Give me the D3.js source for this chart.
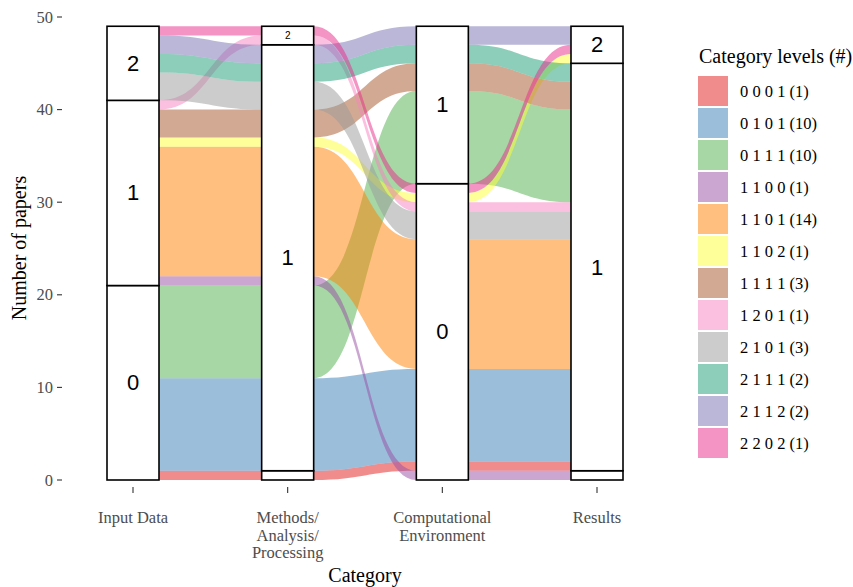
<!DOCTYPE html>
<html>
<head>
<meta charset="utf-8">
<script src="https://cdn.jsdelivr.net/npm/d3@7/dist/d3.min.js"></script>
<style>
  body { margin: 0; background: #fff; }
  svg { display: block; }
</style>
</head>
<body>
<svg id="chart" width="853" height="587"></svg>
<script>
// Axes (categories) of the alluvial diagram
const axes = ["Input Data", "Methods/\nAnalysis/\nProcessing", "Computational\nEnvironment", "Results"];
// Level combinations, one per alluvium (levels at each axis) and paper counts
const combos = ["0 0 0 1", "0 1 0 1", "0 1 1 1", "1 1 0 0", "1 1 0 1", "1 1 0 2",
                "1 1 1 1", "1 2 0 1", "2 1 0 1", "2 1 1 1", "2 1 1 2", "2 2 0 2"];
const counts = [1, 10, 10, 1, 14, 1, 3, 1, 3, 2, 2, 1];
// Fill colours: Set1 followed by the first Dark2 hues
const colors = ["#E41A1C", "#377EB8", "#4DAF4A", "#984EA3", "#FF7F00", "#FFFF33",
                "#A65628", "#F781BF", "#999999", "#1B9E77", "#7570B3", "#E7298A"];
const yTicks = [0, 10, 20, 30, 40, 50];

const svg = d3.select("#chart");
const serif = "'Liberation Serif', 'DejaVu Serif', serif";
const sans = "'Liberation Sans', Arial, sans-serif";

const x = d3.scalePoint().domain(d3.range(axes.length)).range([133, 597]);
const y = d3.scaleLinear().domain([0, 50]).range([480, 17]);
const stratW = 52;

// Parse levels of every alluvium
const alluvia = combos.map((c, i) => ({
  id: i, label: c, n: counts[i], color: colors[i],
  lv: c.split(" ").map(Number), lodes: []
}));

// Lode ordering within each axis: own level, then the other axes nearest first
const sortKeys = [[0, 1, 2, 3], [1, 0, 2, 3], [2, 3, 1, 0], [3, 2, 1, 0]];
const strata = [];
axes.forEach((a, ai) => {
  const sorted = alluvia.slice().sort((p, q) => {
    for (const k of sortKeys[ai]) {
      if (p.lv[k] !== q.lv[k]) return p.lv[k] - q.lv[k];
    }
    return p.id - q.id;
  });
  let cum = 0;
  sorted.forEach(al => { al.lodes[ai] = [cum, cum + al.n]; cum += al.n; });
  // Strata totals per level
  const byLevel = d3.rollups(alluvia, v => d3.sum(v, d => d.n), d => d.lv[ai]).sort((p, q) => p[0] - q[0]);
  let c0 = 0;
  byLevel.forEach(([lvl, tot]) => { strata.push({ axis: ai, level: lvl, y0: c0, y1: c0 + tot }); c0 += tot; });
});

// Flow ribbons between consecutive axes
function ribbon(al, ai) {
  const xa = x(ai) + stratW / 2, xb = x(ai + 1) - stratW / 2;
  const g = (xb - xa) * 0.5;
  const [a0, a1] = al.lodes[ai], [b0, b1] = al.lodes[ai + 1];
  const p = d3.path();
  p.moveTo(xa, y(a0));
  p.bezierCurveTo(xa + g, y(a0), xb - g, y(b0), xb, y(b0));
  p.lineTo(xb, y(b1));
  p.bezierCurveTo(xb - g, y(b1), xa + g, y(a1), xa, y(a1));
  p.closePath();
  return p.toString();
}

const flows = svg.append("g");
alluvia.forEach(al => {
  for (let ai = 0; ai < axes.length - 1; ai++) {
    flows.append("path").attr("d", ribbon(al, ai))
      .attr("fill", al.color).attr("fill-opacity", 0.5).attr("stroke", "none");
  }
});

// Strata boxes and level labels
const sg = svg.append("g");
strata.forEach(s => {
  sg.append("rect")
    .attr("x", x(s.axis) - stratW / 2).attr("y", y(s.y1))
    .attr("width", stratW).attr("height", y(s.y0) - y(s.y1))
    .attr("fill", "#fff").attr("stroke", "#000").attr("stroke-width", 1.6);
  const h = y(s.y0) - y(s.y1);
  if (h > 12) {
    const fs = h > 30 ? 22 : 10;
    sg.append("text").attr("x", x(s.axis)).attr("y", y((s.y0 + s.y1) / 2))
      .attr("text-anchor", "middle").attr("dominant-baseline", "central")
      .attr("font-family", sans).attr("font-size", fs).attr("fill", "#000")
      .text(s.level);
  }
});

// Y axis
const ya = svg.append("g");
yTicks.forEach(t => {
  ya.append("line").attr("x1", 57).attr("x2", 62).attr("y1", y(t)).attr("y2", y(t))
    .attr("stroke", "#333").attr("stroke-width", 1.1);
  ya.append("text").attr("x", 53).attr("y", y(t)).attr("text-anchor", "end")
    .attr("dominant-baseline", "central").attr("font-family", serif)
    .attr("font-size", 16.5).attr("fill", "#4D4D4D").text(t);
});

// X axis
const xa = svg.append("g");
axes.forEach((a, i) => {
  xa.append("line").attr("x1", x(i)).attr("x2", x(i)).attr("y1", 487).attr("y2", 493)
    .attr("stroke", "#333").attr("stroke-width", 1.1);
  const t = xa.append("text").attr("text-anchor", "middle").attr("font-family", serif)
    .attr("font-size", 16.5).attr("fill", "#4D4D4D");
  a.split("\n").forEach((ln, k) => {
    t.append("tspan").attr("x", x(i)).attr("y", 523 + k * 17.5).text(ln);
  });
});

svg.append("text").attr("x", 365).attr("y", 582).attr("text-anchor", "middle")
  .attr("font-family", serif).attr("font-size", 20).attr("fill", "#000").text("Category");
svg.append("text").attr("transform", "translate(26,248) rotate(-90)")
  .attr("text-anchor", "middle").attr("font-family", serif).attr("font-size", 20)
  .attr("fill", "#000").text("Number of papers");

// Legend
const lg = svg.append("g");
lg.append("text").attr("x", 699).attr("y", 63).attr("font-family", serif)
  .attr("font-size", 20).attr("fill", "#000").text("Category levels (#)");
alluvia.forEach((al, i) => {
  const ky = 76 + i * 32;
  lg.append("rect").attr("x", 698).attr("y", ky).attr("width", 30).attr("height", 30)
    .attr("fill", al.color).attr("fill-opacity", 0.5);
  lg.append("text").attr("x", 740).attr("y", ky + 15).attr("dominant-baseline", "central")
    .attr("font-family", serif).attr("font-size", 16.5).attr("fill", "#000")
    .text(`${al.label} (${al.n})`);
});
</script>
</body>
</html>
